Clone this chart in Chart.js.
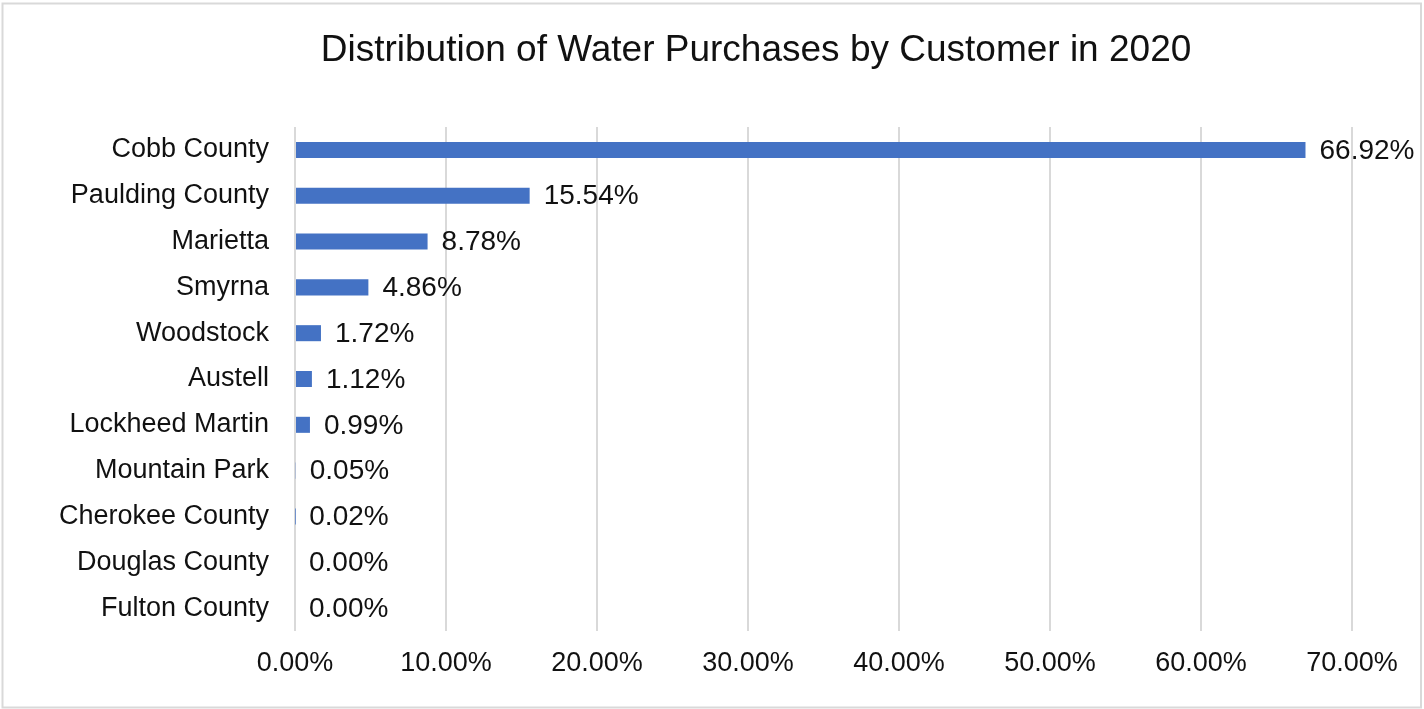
<!DOCTYPE html>
<html>
<head>
<meta charset="utf-8">
<title>Distribution of Water Purchases by Customer in 2020</title>
<script src="https://cdn.jsdelivr.net/npm/chart.js@4/dist/chart.umd.min.js"></script>
<style>
  html, body { margin: 0; padding: 0; background: #ffffff; }
  #wrap { width: 1424px; height: 709px; position: relative; }
</style>
</head>
<body>
<div id="wrap"><canvas id="chart" width="1424" height="709"></canvas></div>
<script>
// Share of 2020 water purchases per customer (percent)
const customers = [
  'Cobb County', 'Paulding County', 'Marietta', 'Smyrna', 'Woodstock', 'Austell',
  'Lockheed Martin', 'Mountain Park', 'Cherokee County', 'Douglas County', 'Fulton County'
];
const sharePercent = [66.92, 15.54, 8.78, 4.86, 1.72, 1.12, 0.99, 0.05, 0.02, 0.00, 0.00];
const axisTicks = [0, 10, 20, 30, 40, 50, 60, 70];
const chartTitle = 'Distribution of Water Purchases by Customer in 2020';

const FONT = "'Liberation Sans', Arial, sans-serif";
const fmtPct = v => Number(v).toFixed(2) + '%';

// Value labels placed just past the end of each bar
const valueLabels = {
  id: 'valueLabels',
  afterDatasetsDraw(chart) {
    const ctx = chart.ctx;
    const xs = chart.scales.x;
    const meta = chart.getDatasetMeta(0);
    ctx.save();
    ctx.font = '28px ' + FONT;
    ctx.fillStyle = '#111111';
    ctx.textAlign = 'left';
    ctx.textBaseline = 'middle';
    meta.data.forEach((bar, i) => {
      const v = chart.data.datasets[0].data[i];
      const x = xs.getPixelForValue(v) + 14;
      ctx.fillText(fmtPct(v), x, bar.y + 1);
    });
    ctx.restore();
  }
};

// Thin frame around the whole chart
const frame = {
  id: 'frame',
  beforeDraw(chart) {
    const ctx = chart.ctx;
    ctx.save();
    ctx.fillStyle = '#ffffff';
    ctx.fillRect(0, 0, chart.width, chart.height);
    ctx.strokeStyle = '#d9d9d9';
    ctx.lineWidth = 2;
    ctx.strokeRect(2.5, 3.5, 1418.5, 704);
    ctx.restore();
  }
};

// Centre the title over the span from the category labels to the plot's right edge
const titleSpan = {
  id: 'titleSpan',
  afterLayout(chart) {
    const t = chart.titleBlock;
    if (!t) return;
    const shift = 160;
    t.left = shift;
    t.right = chart.chartArea.right;
    t.width = t.right - t.left;
  }
};

new Chart(document.getElementById('chart'), {
  type: 'bar',
  data: {
    labels: customers,
    datasets: [{
      data: sharePercent,
      backgroundColor: '#4472C4',
      borderWidth: 0,
      categoryPercentage: 1,
      barPercentage: 0.35
    }]
  },
  options: {
    indexAxis: 'y',
    responsive: false,
    animation: false,
    layout: { padding: { left: 0, right: 72, top: 0, bottom: 0 } },
    plugins: {
      legend: { display: false },
      tooltip: { enabled: false },
      title: {
        display: true,
        text: chartTitle,
        color: '#111111',
        font: { family: FONT, size: 37, weight: 'normal' },
        padding: { top: 29, bottom: 53.6 }
      }
    },
    scales: {
      x: {
        min: axisTicks[0],
        max: axisTicks[axisTicks.length - 1],
        afterBuildTicks(scale) { scale.ticks = axisTicks.map(v => ({ value: v })); },
        afterFit(scale) { scale.height = 78; scale.paddingLeft = 0; scale.paddingRight = 0; },
        grid: { color: '#d9d9d9', lineWidth: 2, drawTicks: false },
        border: { display: false },
        ticks: {
          color: '#111111',
          font: { family: FONT, size: 27 },
          padding: 16,
          maxRotation: 0,
          callback: v => fmtPct(v)
        }
      },
      y: {
        afterFit(scale) { scale.width = 295; },
        grid: { display: false, drawTicks: false },
        border: { display: false },
        ticks: {
          color: '#111111',
          font: { family: FONT, size: 27 },
          padding: 26
        }
      }
    }
  },
  plugins: [frame, titleSpan, valueLabels]
});
</script>
</body>
</html>
